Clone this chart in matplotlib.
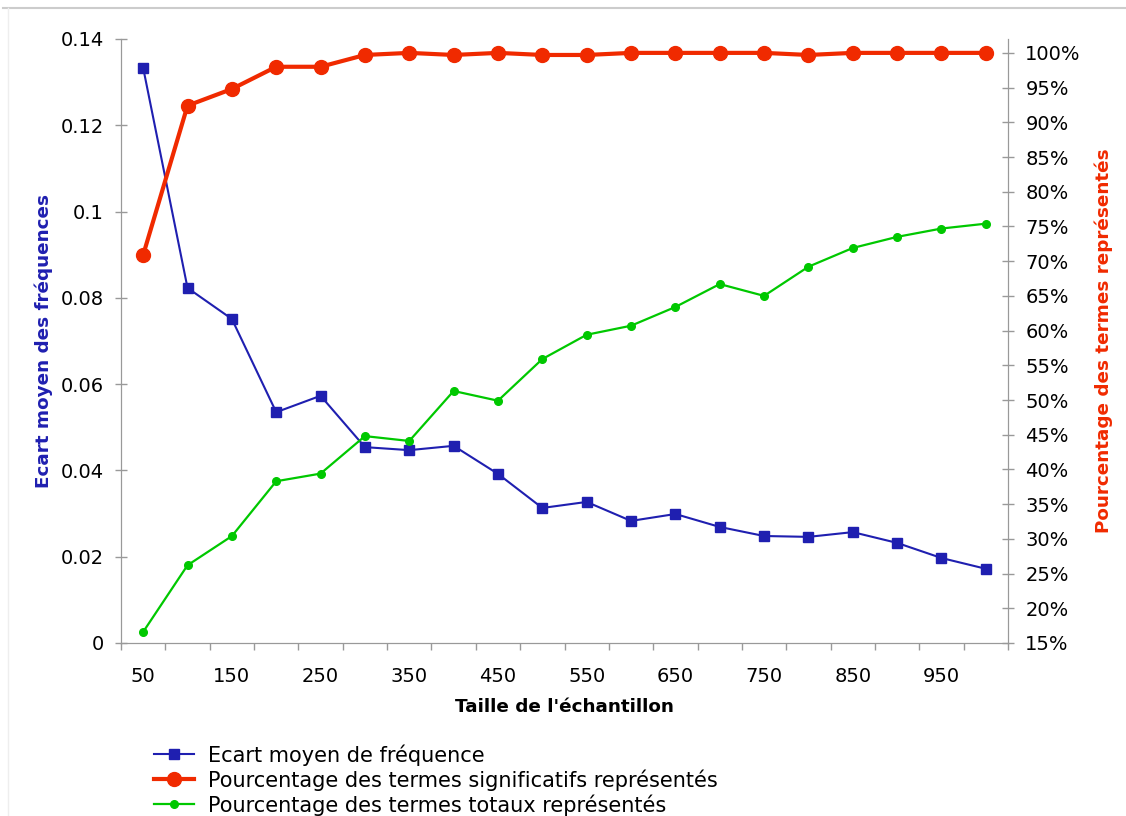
import matplotlib
matplotlib.use("Agg")
import matplotlib.pyplot as plt
from matplotlib.lines import Line2D
from matplotlib.ticker import FuncFormatter

# Données
tailles = [50, 100, 150, 200, 250, 300, 350, 400, 450, 500,
           550, 600, 650, 700, 750, 800, 850, 900, 950, 1000]
ecart_moyen = [0.1333, 0.0823, 0.0751, 0.0535, 0.0573, 0.0454, 0.0447, 0.0457,
               0.0392, 0.0313, 0.0327, 0.0283, 0.0299, 0.0269, 0.0248, 0.0246,
               0.0257, 0.0232, 0.0197, 0.0172]
pct_significatifs = [70.9, 92.4, 94.8, 98.0, 98.0, 99.7, 100.0, 99.7, 100.0, 99.7,
                     99.7, 100.0, 100.0, 100.0, 100.0, 99.7, 100.0, 100.0, 100.0, 100.0]
pct_totaux = [16.6, 26.2, 30.4, 38.3, 39.4, 44.8, 44.1, 51.3, 49.9, 55.9,
              59.4, 60.7, 63.4, 66.7, 65.0, 69.2, 71.9, 73.5, 74.7, 75.4]

bleu = "#1f1fb0"
rouge = "#f02a00"
vert = "#00c800"
gris = "#999999"

plt.rcParams['font.family'] = ['DejaVu Sans']

fig = plt.figure(figsize=(11.26, 8.16), dpi=100)
ax = fig.add_axes([121 / 1126, 1 - 643 / 816, 887 / 1126, 604 / 816])
ax2 = ax.twinx()

x = list(range(len(tailles)))

l1, = ax.plot(x, ecart_moyen, color=bleu, lw=1.5, marker="s", ms=7.5, zorder=3)
l2, = ax2.plot(x, [v / 100 for v in pct_significatifs], color=rouge, lw=3,
               marker="o", ms=10, zorder=3)
l3, = ax2.plot(x, [v / 100 for v in pct_totaux], color=vert, lw=1.6,
               marker="o", ms=5.5, zorder=3)

ax.set_xlim(-0.5, len(tailles) - 0.5)
ax.set_ylim(0, 0.14)
ax.set_yticks([0, 0.02, 0.04, 0.06, 0.08, 0.1, 0.12, 0.14])
ax.yaxis.set_major_formatter(FuncFormatter(lambda v, p: "0" if v == 0 else ("%.2f" % v).rstrip("0")))

ax2.set_ylim(0.15, 1.02)
ax2.set_yticks([0.15 + 0.05 * i for i in range(18)])
ax2.yaxis.set_major_formatter(FuncFormatter(lambda v, p: "%d%%" % round(v * 100)))

# ticks x : traits entre les catégories, étiquettes une sur deux
ax.set_xticks([i - 0.5 for i in range(len(tailles) + 1)])
ax.set_xticklabels([])
ax.set_xticks(x[::2], minor=True)
ax.set_xticklabels([str(t) for t in tailles[::2]], minor=True)
ax.tick_params(axis="x", which="major", direction="out", length=5, color=gris, width=1)
ax.tick_params(axis="x", which="minor", length=0, labelsize=14, pad=17)
ax.tick_params(axis="y", direction="inout", length=9, color=gris, width=1,
               labelsize=14, pad=8)
ax2.tick_params(axis="y", direction="inout", length=9, color=gris, width=1,
                labelsize=14, pad=8)

for a in (ax, ax2):
    a.spines["top"].set_visible(False)
    for s in ("left", "right", "bottom"):
        a.spines[s].set_color(gris)

ax.set_xlabel("Taille de l'échantillon", fontsize=13.2, fontweight="bold", labelpad=9)
ax.set_ylabel("Ecart moyen des fréquences", fontsize=13.2, fontweight="bold",
              color=bleu, labelpad=5)
ax2.set_ylabel("Pourcentage des termes représentés", fontsize=13.2, fontweight="bold",
               color=rouge, labelpad=10)

fig.legend([l1, l2, l3],
           ["Ecart moyen de fréquence",
            "Pourcentage des termes significatifs représentés",
            "Pourcentage des termes totaux représentés"],
           loc="upper left", bbox_to_anchor=(154 / 1126, 1 - 744 / 816),
           frameon=False, fontsize=15, handlelength=1.9, handletextpad=0.7,
           labelspacing=0.17, borderaxespad=0, borderpad=0)

# cadre gris autour
fig.add_artist(Line2D([3 / 1126, 1], [1 - 8 / 816, 1 - 8 / 816], color="#cccccc", lw=1.5))
fig.add_artist(Line2D([8 / 1126, 8 / 1126], [0, 1 - 8 / 816], color="#eeeeee", lw=1))

fig.savefig("out.png", dpi=100)
plt.close(fig)
